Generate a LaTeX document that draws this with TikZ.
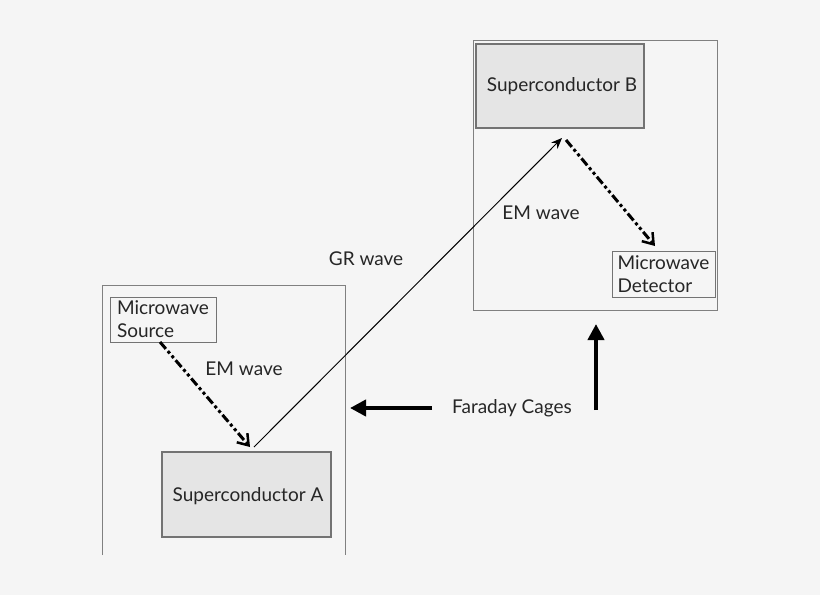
\documentclass[tikz,border=0pt]{standalone}
\usepackage{fontspec}
\setmainfont{Lato}
\usetikzlibrary{arrows.meta}
\begin{document}
\begin{tikzpicture}[x=1pt,y=-1pt,
  every node/.style={font=\fontsize{19}{23}\selectfont, text=black!85},
  cage/.style={draw=black!50, line width=1pt},
  sbox/.style={draw=black!55, fill=black!10, line width=1.2pt},
  ibox/.style={draw=black!55, fill=white!96!black, line width=1pt},
  em/.style={line width=3pt, dash pattern=on 9pt off 3pt on 3pt off 3pt on 3pt off 3pt, -{Straight Barb[length=10pt,width=14pt,line width=2.5pt]}},
  big/.style={line width=4pt, -{Triangle[length=16pt,width=16pt]}}]
\fill[black!4] (0,0) rectangle (820,595);
% cages
\draw[cage] (102,555) -- (102,285) -- (345,285) -- (345,555);
\draw[cage] (473,40) rectangle (717,310);
% boxes
\draw[sbox] (162,452) rectangle (331,537);
\node (supA) at (248,496) {Superconductor A};
\draw[sbox] (476,44) rectangle (644,128);
\node (supB) at (562,86) {Superconductor B};
\draw[ibox] (110,297) rectangle (216,342);
\node[align=left] (src) at (163,319.5) {Microwave\\Source};
\draw[ibox] (612,251) rectangle (715,297);
\node[align=left] (det) at (663.5,274) {Microwave\\Detector};
% connectors
\coordinate (srcOut) at (160,342);
\coordinate (aIn) at (250,447);
\coordinate (aOut) at (254,447);
\coordinate (bIn) at (562,138);
\coordinate (bOut) at (566,140);
\coordinate (detIn) at (655,246);
\draw[em] (srcOut) -- (aIn);
\draw[em] (bOut) -- (detIn);
\draw[line width=1pt, -{Stealth[length=11pt,width=9pt]}] (aOut) -- (bIn);
% labels
\node (emA) at (244,369) {EM wave};
\node (emB) at (541,213) {EM wave};
\node (gr) at (366,259) {GR wave};
\node (fc) at (512,408) {Faraday Cages};
\coordinate (leftTip) at (350,408);
\coordinate (upTip) at (596,324);
\draw[big] (432,408) -- (leftTip);
\draw[big] (596,410) -- (upTip);
\end{tikzpicture}
\end{document}
